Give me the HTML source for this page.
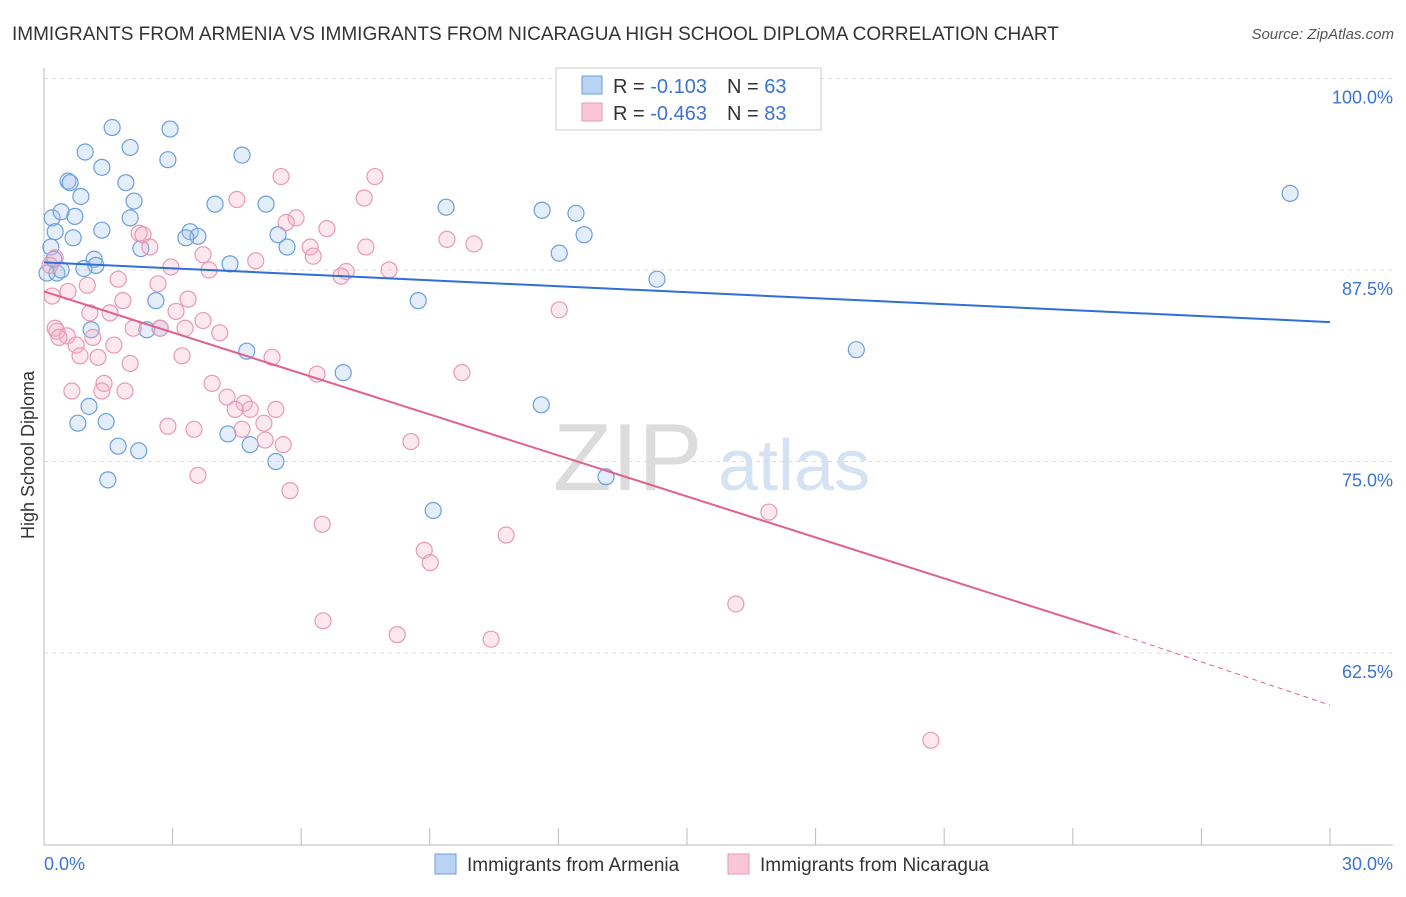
<!DOCTYPE html>
<html><head><meta charset="utf-8"><style>
body{margin:0;background:#fff;font-family:"Liberation Sans",sans-serif}
svg text{font-family:"Liberation Sans",sans-serif}
</style></head><body>
<svg id="chart" width="1406" height="892" xmlns="http://www.w3.org/2000/svg">
<text x="12" y="40" font-size="19" fill="#333">IMMIGRANTS FROM ARMENIA VS IMMIGRANTS FROM NICARAGUA HIGH SCHOOL DIPLOMA CORRELATION CHART</text>
<text x="1394" y="39" font-size="15" fill="#555" font-style="italic" text-anchor="end">Source: ZipAtlas.com</text>
<g><text x="553" y="490" font-size="96" fill="#dcdcdc" font-family="Liberation Serif,serif">ZIP</text><text x="718" y="490" font-size="72" fill="#d4e2f4">atlas</text></g>
<g id="grid"></g><g id="axes"></g><g id="marks"></g>
<g>
<rect x="556" y="68" width="265" height="62" fill="#fff" stroke="#ccc"/>
<rect x="582" y="76" width="20" height="18" fill="#b9d3f5" stroke="#6a9fdc"/>
<rect x="582" y="103" width="20" height="18" fill="#f8c6d6" stroke="#e899b4"/>
<text x="613" y="93" font-size="20" fill="#333">R = <tspan fill="#3a74d0">-0.103</tspan><tspan dx="20">N = </tspan><tspan fill="#3a74d0">63</tspan></text>
<text x="613" y="120" font-size="20" fill="#333">R = <tspan fill="#3a74d0">-0.463</tspan><tspan dx="20">N = </tspan><tspan fill="#3a74d0">83</tspan></text>
</g>
<g>
<rect x="435" y="854" width="21" height="20" fill="#b9d3f5" stroke="#6a9fdc"/>
<text x="467" y="871" font-size="19" fill="#333">Immigrants from Armenia</text>
<rect x="728" y="854" width="21" height="20" fill="#f8c6d6" stroke="#e899b4"/>
<text x="760" y="871" font-size="19" fill="#333">Immigrants from Nicaragua</text>
</g>
<text transform="translate(34,455) rotate(-90)" font-size="18" fill="#333" text-anchor="middle">High School Diploma</text>
</svg>
<script>
const blueX=[1.59,2.94,2.01,0.96,2.89,4.62,1.35,0.56,1.91,0.61,0.86,2.1,3.99,5.18,9.38,11.62,12.41,29.07,0.19,0.4,0.72,2.01,0.26,0.68,1.35,3.41,3.59,3.31,5.46,5.67,2.26,0.16,12.6,12.02,1.17,1.21,0.93,0.07,0.3,4.34,14.3,8.73,2.61,1.1,2.4,2.71,18.95,4.73,6.98,11.6,1.05,0.79,1.45,4.29,1.73,2.21,4.81,5.41,1.49,13.11,9.08,0.23,0.4];
const blueY=[96.8,96.7,95.5,95.2,94.7,95.0,94.2,93.3,93.2,93.2,92.3,92.0,91.8,91.8,91.6,91.4,91.2,92.5,90.9,91.3,91.0,90.9,90.0,89.6,90.1,90.0,89.7,89.6,89.8,89.0,88.9,89.0,89.8,88.6,88.2,87.8,87.6,87.3,87.3,87.9,86.9,85.5,85.5,83.6,83.6,83.7,82.3,82.2,80.8,78.7,78.6,77.5,77.6,76.8,76.0,75.7,76.1,75.0,73.8,74.0,71.8,88.2,87.5];
const pinkX=[5.53,7.72,4.5,7.47,5.88,5.65,6.6,2.22,2.31,2.47,9.4,10.03,7.51,6.21,3.71,4.94,6.28,2.96,3.85,7.05,6.93,8.05,0.26,0.14,1.01,1.73,2.66,0.56,0.19,1.84,3.36,1.07,1.54,3.08,3.71,4.1,2.08,3.29,2.71,0.30,0.26,0.54,1.14,0.35,1.63,0.75,0.84,1.26,2.01,3.22,5.32,6.37,9.75,12.02,1.4,1.35,0.65,1.89,3.92,4.27,4.67,4.46,4.81,5.41,2.89,3.5,5.13,4.62,5.16,5.58,8.56,3.59,5.74,6.49,8.87,9.01,10.78,16.91,6.51,8.24,10.43,16.14,20.69];
const pinkY=[93.6,93.6,92.1,92.2,90.9,90.6,90.2,89.9,89.8,89.0,89.5,89.2,89.0,89.0,88.5,88.1,88.4,87.7,87.5,87.4,87.1,87.5,88.3,87.8,86.5,86.9,86.6,86.1,85.8,85.5,85.6,84.7,84.7,84.8,84.2,83.4,83.7,83.7,83.7,83.5,83.7,83.2,83.1,83.1,82.6,82.6,81.9,81.8,81.4,81.9,81.8,80.7,80.8,84.9,80.1,79.6,79.6,79.6,80.1,79.2,78.8,78.4,78.4,78.4,77.3,77.1,77.5,77.1,76.4,76.1,76.3,74.1,73.1,70.9,69.2,68.4,70.2,71.7,64.6,63.7,63.4,65.7,56.8];
const yTicks=[100,87.5,75,62.5];
const xTickLabels=["0.0%","30.0%"];
const blueTrend=[88.0,84.1];
const pinkTrend=[86.1,63.8,59.1];
const X=v=>44+v/30*1286, Y=v=>78.5+(100-v)/12.5*191.5;
const ns="http://www.w3.org/2000/svg";
function mk(t,a,p){const e=document.createElementNS(ns,t);for(const k in a)e.setAttribute(k,a[k]);p.appendChild(e);return e;}
const grid=document.getElementById('grid'),axes=document.getElementById('axes'),marks=document.getElementById('marks');
yTicks.forEach(v=>{
 const l=mk('line',{x1:44,x2:1393,y1:Y(v),y2:Y(v),stroke:'#ddd','stroke-dasharray':'4,4'},grid);
 
 
 const t=mk('text',{x:1393,y:Y(v)+25,'font-size':18,fill:'#3a74d0','text-anchor':'end'},axes);t.textContent=v.toFixed(1)+'%';
 
 
});
const ax=mk('line',{x1:44,x2:1393,y1:845,y2:845,stroke:'#bbb'},axes);


const ay=mk('line',{x1:44,x2:44,y1:68,y2:845,stroke:'#bbb'},axes);


for(let i=0;i<=10;i++){const tk=mk('line',{x1:X(i*3),x2:X(i*3),y1:828,y2:845,stroke:'#bbb'},axes);
 
 }
[[0,'start',44],[1,'end',1393]].forEach(([i,a,x])=>{const t=mk('text',{x:x,y:870,'font-size':18,fill:'#3a74d0','text-anchor':a},axes);t.textContent=xTickLabels[i];
 
 });
function pts(xs,ys,fill,stroke,name){xs.forEach((x,i)=>{const c=mk('circle',{cx:X(x),cy:Y(ys[i]),r:8,fill:fill,stroke:stroke,'stroke-width':1.2},marks);
 
 });}
pts(blueX,blueY,'rgba(165,195,240,0.3)','#6a9fdc','armenia-point');
pts(pinkX,pinkY,'rgba(245,180,200,0.3)','#e899b4','nicaragua-point');
const bl=mk('line',{x1:X(0),y1:Y(blueTrend[0]),x2:X(30),y2:Y(blueTrend[1]),stroke:'#2f6fd6','stroke-width':2},marks);


const pl=mk('line',{x1:X(0),y1:Y(pinkTrend[0]),x2:X(25),y2:Y(pinkTrend[1]),stroke:'#e0608e','stroke-width':2},marks);


const pd=mk('line',{x1:X(25),y1:Y(pinkTrend[1]),x2:X(30),y2:Y(pinkTrend[2]),stroke:'#e0608e','stroke-width':1,'stroke-dasharray':'5,4'},marks);


const topLine=mk('line',{x1:44,x2:1393,y1:78.5,y2:78.5,stroke:'#ddd','stroke-dasharray':'4,4'},grid);


</script>
</body></html>
